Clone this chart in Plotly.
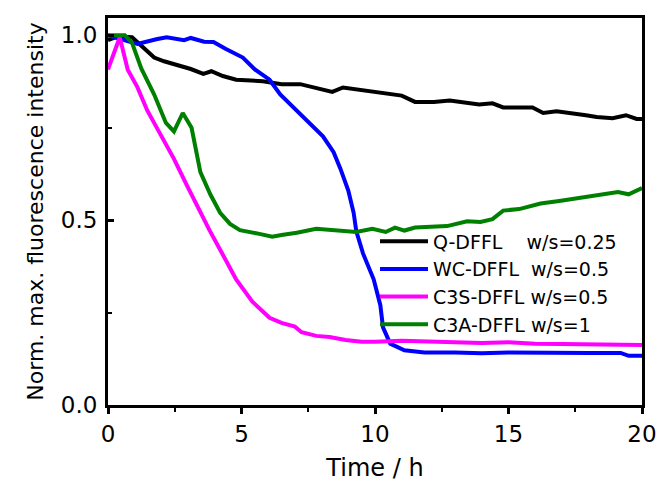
import plotly.graph_objects as go

# Q-DFFL w/s=0.25
q_t = [0, 0.37, 0.9, 1.35, 1.73, 2.1, 2.6, 3.1, 3.57, 3.87, 4.3, 4.8, 5.8, 6.5, 7.2,
       7.9, 8.4, 8.8, 9.75, 11.0, 11.5, 12.2, 12.8, 13.3, 13.9, 14.4, 14.8, 15.9,
       16.3, 16.8, 17.4, 17.9, 18.3, 18.9, 19.4, 19.8, 20]
q_v = [0.987, 0.997, 0.995, 0.964, 0.94, 0.93, 0.92, 0.909, 0.896, 0.903, 0.89, 0.88,
       0.876, 0.868, 0.868, 0.856, 0.847, 0.859, 0.85, 0.837, 0.82, 0.82, 0.824, 0.82,
       0.813, 0.816, 0.805, 0.805, 0.79, 0.795, 0.79, 0.784, 0.779, 0.776, 0.784,
       0.774, 0.774]

# WC-DFFL w/s=0.5
wc_t = [0, 0.5, 1.1, 1.85, 2.2, 2.85, 3.1, 3.6, 3.95, 4.4, 5.05, 5.5, 6.05, 6.45, 6.95,
        7.45, 8.05, 8.45, 8.7, 9.0, 9.2, 9.3, 9.55, 9.95, 10.2, 10.3, 10.57, 11.1,
        11.85, 13, 14, 15, 16, 17, 18, 19.2, 19.5, 20]
wc_v = [1.0, 0.99, 0.977, 0.99, 0.995, 0.987, 0.993, 0.983, 0.982, 0.964, 0.94, 0.908,
        0.88, 0.84, 0.805, 0.77, 0.727, 0.684, 0.64, 0.58, 0.52, 0.47, 0.41, 0.34,
        0.27, 0.21, 0.166, 0.148, 0.142, 0.142, 0.14, 0.142, 0.141, 0.14, 0.141,
        0.141, 0.133, 0.133]

# C3S-DFFL w/s=0.5
c3s_t = [0, 0.44, 0.74, 1.1, 1.47, 2.0, 2.47, 2.95, 3.5, 3.8, 4.2, 4.8, 5.4, 6.05, 6.5,
         7.0, 7.25, 7.8, 8.3, 8.9, 9.5, 10, 11, 11.85, 13, 14, 15, 16, 17, 18, 19, 20]
c3s_v = [0.908, 0.995, 0.907, 0.86, 0.797, 0.727, 0.666, 0.595, 0.513, 0.473, 0.42,
         0.34, 0.28, 0.236, 0.222, 0.212, 0.197, 0.187, 0.184, 0.176, 0.171, 0.171,
         0.174, 0.172, 0.17, 0.168, 0.17, 0.166, 0.165, 0.164, 0.163, 0.162]

# C3A-DFFL w/s=1
c3a_t = [0, 0.63, 0.9, 1.25, 1.73, 2.17, 2.47, 2.8, 3.13, 3.46, 3.83, 4.2, 4.57, 4.94,
         5.67, 6.15, 6.5, 7.07, 7.8, 8.55, 9.3, 9.9, 10.4, 10.75, 11.1, 11.5, 12.7,
         13.45, 13.95, 14.4, 14.8, 15.4, 16.2, 16.9, 17.6, 18.4, 19.1, 19.5, 20]
c3a_v = [1.0, 1.0, 0.98, 0.91, 0.84, 0.763, 0.74, 0.79, 0.75, 0.63, 0.57, 0.52, 0.49,
         0.473, 0.463, 0.455, 0.46, 0.466, 0.477, 0.473, 0.468, 0.477, 0.468, 0.48,
         0.472, 0.48, 0.484, 0.497, 0.495, 0.503, 0.526, 0.53, 0.545, 0.552, 0.56,
         0.568, 0.576, 0.57, 0.587]

nb = "\u00a0"
series = [
    (q_t, q_v, f"Q-DFFL{nb * 4}w/s=0.25", "#000000"),
    (wc_t, wc_v, f"WC-DFFL{nb * 2}w/s=0.5", "#0000ff"),
    (c3s_t, c3s_v, f"C3S-DFFL{nb}w/s=0.5", "#ff00ff"),
    (c3a_t, c3a_v, f"C3A-DFFL{nb}w/s=1", "#008000"),
]

fig = go.Figure()
for t, v, name, color in series:
    fig.add_trace(
        go.Scatter(
            x=t,
            y=v,
            mode="lines",
            name=name,
            line={"color": color, "width": 4},
        )
    )

axis_common = dict(
    showline=True,
    mirror=True,
    linecolor="black",
    linewidth=3,
    showgrid=False,
    zeroline=False,
    tickcolor="black",
    tickwidth=3,
    tickfont={"size": 23, "color": "black"},
)

fig.update_xaxes(
    range=[0, 20],
    tickvals=[0, 5, 10, 15, 20],
    ticks="outside",
    ticklen=6,
    minor={"dtick": 2.5, "ticks": "outside", "ticklen": 4, "tickwidth": 2,
           "tickcolor": "black"},
    title={"text": "Time / h", "font": {"size": 24, "color": "black"}, "standoff": 14},
    **axis_common,
)
fig.update_yaxes(
    range=[0, 1.047],
    tickvals=[0, 0.5, 1.0],
    tickformat=".1f",
    ticks="inside",
    ticklen=6,
    ticklabelstandoff=3,
    minor={"tickvals": [0.25, 0.75], "ticks": "inside", "ticklen": 4, "tickwidth": 2,
           "tickcolor": "black"},
    title={"text": "Norm. max. fluorescence intensity",
           "font": {"size": 22, "color": "black"}, "standoff": 12},
    **axis_common,
)

# page body has an 8px margin, so the figure is sized to fit the window
fig.update_layout(
    width=656,
    height=476,
    margin={"l": 100, "r": 16, "t": 7, "b": 71},
    plot_bgcolor="white",
    paper_bgcolor="white",
    font={"family": "DejaVu Sans", "color": "black"},
    legend={
        "x": 0.5,
        "y": 0.472,
        "xanchor": "left",
        "yanchor": "top",
        "bgcolor": "rgba(0,0,0,0)",
        "font": {"size": 19, "color": "black"},
        "itemwidth": 48,
        "tracegroupgap": 0,
    },
)

fig.write_html("out.html")
